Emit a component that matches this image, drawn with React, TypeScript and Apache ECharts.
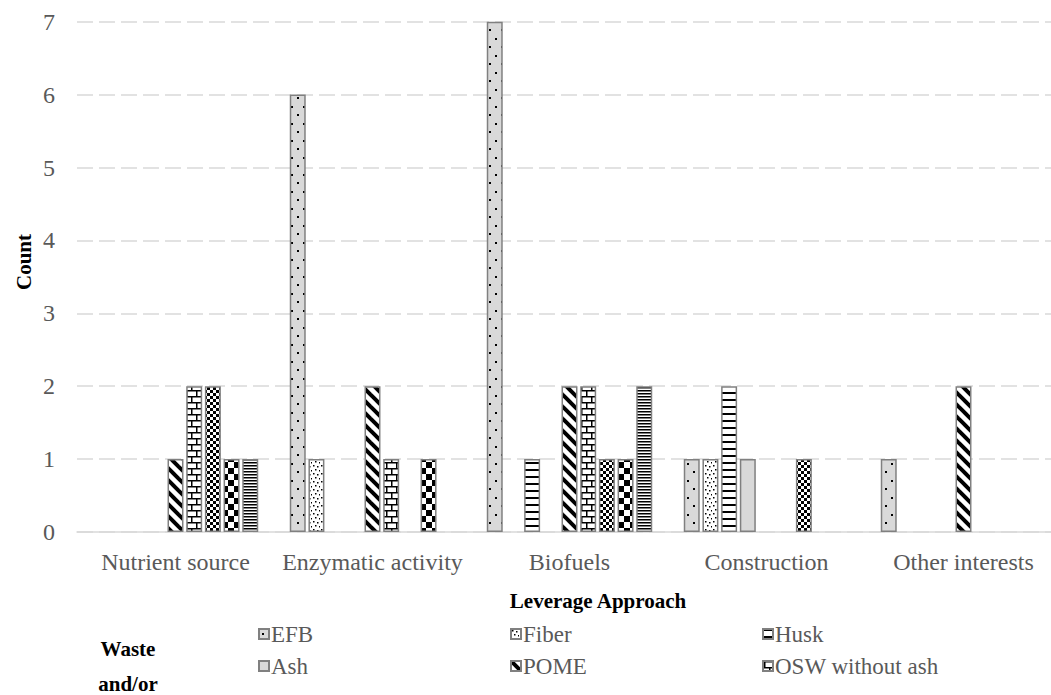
import { useEffect, useRef } from "react";
import * as echarts from "echarts";

const categories = ["Nutrient source", "Enzymatic activity", "Biofuels", "Construction", "Other interests"];
const seriesNames = ["EFB", "Fiber", "Husk", "Ash", "POME", "OSW without ash", "Shell", "Frond", "Trunk"];
const efb = [0, 6, 7, 1, 1];
const fiber = [0, 1, 0, 1, 0];
const husk = [0, 0, 1, 2, 0];
const ash = [0, 0, 0, 1, 0];
const pome = [1, 2, 2, 0, 2];
const oswWithoutAsh = [2, 1, 2, 0, 0];
const shell = [2, 0, 1, 1, 0];
const frond = [1, 1, 1, 0, 0];
const trunk = [1, 0, 2, 0, 0];
const seriesValues = [efb, fiber, husk, ash, pome, oswWithoutAsh, shell, frond, trunk];
const legendColumns = [["EFB", "Ash"], ["Fiber", "POME"], ["Husk", "OSW without ash"]];

const FONT = '"Liberation Serif", "Times New Roman", serif';

type Draw = (ctx: CanvasRenderingContext2D, w: number, h: number) => void;

function makePattern(w: number, h: number, bg: string, draw: Draw) {
  const c = document.createElement("canvas");
  c.width = w;
  c.height = h;
  const ctx = c.getContext("2d") as CanvasRenderingContext2D;
  ctx.fillStyle = bg;
  ctx.fillRect(0, 0, w, h);
  ctx.fillStyle = "#000";
  ctx.strokeStyle = "#000";
  draw(ctx, w, h);
  return { image: c, repeat: "repeat", imageWidth: w, imageHeight: h } as any;
}

function buildPatterns() {
  return [
    // EFB: grey with sparse dots
    makePattern(12, 17, "#d9d9d9", (ctx) => {
      ctx.fillRect(3, 4, 2, 2);
      ctx.fillRect(9, 12, 2, 2);
    }),
    // Fiber: white with scattered dots
    makePattern(8, 8, "#ffffff", (ctx) => {
      ctx.fillRect(1, 1, 1.5, 1.5);
      ctx.fillRect(5, 2, 1.5, 1.5);
      ctx.fillRect(3, 5, 1.5, 1.5);
      ctx.fillRect(7, 6, 1.5, 1.5);
    }),
    // Husk: horizontal lines
    makePattern(4, 7, "#ffffff", (ctx) => {
      ctx.fillRect(0, 0, 4, 2);
    }),
    // Ash: plain grey
    makePattern(4, 4, "#d9d9d9", () => {}),
    // POME: wide downward diagonal
    makePattern(12, 12, "#ffffff", (ctx) => {
      ctx.lineWidth = 4;
      for (let k = -1; k <= 1; k++) {
        ctx.beginPath();
        ctx.moveTo(k * 12 - 2, -2);
        ctx.lineTo(k * 12 + 14, 14);
        ctx.stroke();
      }
    }),
    // OSW without ash: horizontal brick
    makePattern(10, 12, "#ffffff", (ctx) => {
      ctx.fillRect(0, 0, 10, 1.5);
      ctx.fillRect(0, 6, 10, 1.5);
      ctx.fillRect(1, 0, 1.5, 6);
      ctx.fillRect(6, 6, 1.5, 6);
    }),
    // small checkerboard
    makePattern(6, 6, "#ffffff", (ctx) => {
      ctx.fillRect(0, 0, 3, 3);
      ctx.fillRect(3, 3, 3, 3);
    }),
    // large checkerboard
    makePattern(12, 12, "#ffffff", (ctx) => {
      ctx.fillRect(0, 0, 6, 6);
      ctx.fillRect(6, 6, 6, 6);
    }),
    // dense horizontal lines
    makePattern(4, 3, "#ffffff", (ctx) => {
      ctx.fillRect(0, 0, 4, 1.5);
    }),
  ];
}

export default function App() {
  const ref = useRef<HTMLDivElement>(null);

  useEffect(() => {
    if (!ref.current) return;
    const chart = echarts.init(ref.current, undefined, { renderer: "svg" });
    const patterns = buildPatterns();
    const legendLefts = [258, 510, 762];

    const titleText = (text: string, x: number, y: number, rotation = 0) => ({
      type: "text",
      x,
      y,
      rotation,
      style: {
        text,
        fontSize: 21,
        fontWeight: "bold",
        fontFamily: FONT,
        fill: "#000000",
        align: "center",
        verticalAlign: "middle",
      },
    });

    chart.setOption({
      animation: false,
      backgroundColor: "#ffffff",
      textStyle: { fontFamily: FONT },
      grid: { left: 77, top: 21.7, width: 985, height: 510.3, containLabel: false },
      xAxis: {
        type: "category",
        data: categories,
        axisLine: { show: true, lineStyle: { color: "#d9d9d9", width: 1.5 } },
        axisTick: { show: false },
        axisLabel: { color: "#595959", fontSize: 24, fontFamily: FONT, margin: 18, interval: 0 },
        splitLine: { show: false },
      },
      yAxis: {
        type: "value",
        min: 0,
        max: 7,
        interval: 1,
        axisLine: { show: false },
        axisTick: { show: false },
        axisLabel: { color: "#595959", fontSize: 24, fontFamily: FONT, margin: 22 },
        splitLine: { show: true, lineStyle: { color: "#d9d9d9", width: 1.5, type: [16, 6] } },
      },
      legend: legendColumns.map((names, i) => ({
        data: names,
        orient: "vertical",
        left: legendLefts[i],
        top: 622,
        itemWidth: 10,
        itemHeight: 10,
        itemGap: 8,
        padding: 0,
        selectedMode: false,
        icon: "rect",
        textStyle: { color: "#595959", fontSize: 23, fontFamily: FONT, lineHeight: 24, padding: [0, 0, 0, -3] },
      })),
      graphic: [
        titleText("Count", 24, 262, Math.PI / 2),
        titleText("Leverage Approach", 598, 601),
        titleText("Waste", 128, 649),
        titleText("and/or", 128, 684),
      ],
      series: seriesValues.map((arr, i) => ({
        name: seriesNames[i],
        type: "bar",
        data: arr.map((v) => (v === 0 ? "-" : v)),
        barGap: "17%",
        barCategoryGap: "16%",
        itemStyle: { color: patterns[i], borderColor: "#808080", borderWidth: 1.5 },
        emphasis: { disabled: true },
      })),
    });

    return () => {
      chart.dispose();
    };
  }, []);

  return (
    <div
      style={{
        position: "absolute",
        left: 0,
        top: 0,
        width: 1051,
        height: 695,
        overflow: "hidden",
        background: "#ffffff",
      }}
    >
      <div ref={ref} style={{ width: 1100, height: 695 }} />
    </div>
  );
}
